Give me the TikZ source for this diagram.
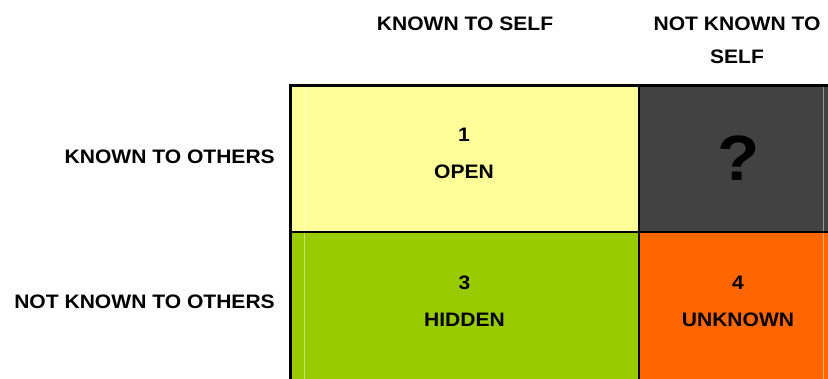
\documentclass[tikz,border=0pt]{standalone}
\usepackage{fontspec}
\setmainfont{Liberation Sans}[FakeStretch=1.08]
\usetikzlibrary{positioning}
\definecolor{openyellow}{HTML}{FFFF99}
\definecolor{blindgray}{HTML}{424242}
\definecolor{hiddengreen}{HTML}{99CC00}
\definecolor{unknownorange}{HTML}{FF6600}

\begin{document}
\begin{tikzpicture}[x=1pt,y=-1pt]
\tikzset{heading/.style = {inner sep=0pt, font=\bfseries\fontsize{19.5}{33}\selectfont}}
\tikzset{celltext/.style = {inner sep=0pt, align=center, font=\bfseries\fontsize{19.5}{37}\selectfont}}
\tikzset{gridline/.style = {white, opacity=0.45, line width=1pt}}
\clip (0,0) rectangle (828,379);
% cells
\fill[openyellow] (290,85) rectangle (639,232);
\fill[blindgray] (639,85) rectangle (840,232);
\fill[hiddengreen] (290,232) rectangle (639,390);
\fill[unknownorange] (639,232) rectangle (840,390);

% faint sheet lines
\draw[gridline] (304.5,87) -- (304.5,379);
\draw[gridline] (823.5,87) -- (823.5,379);

% borders
\draw[line width=3pt] (289,85.5) -- (840,85.5);
\draw[line width=3pt] (290.5,84) -- (290.5,390);
\draw[line width=2pt] (639,85) -- (639,390);
\draw[line width=2pt] (290,232) -- (840,232);

% headings
\node[heading] (self) at (465,23.5) {KNOWN TO SELF};
\node[heading, align=center] (notself) at (737,40.5) {NOT KNOWN TO\\SELF};
\node[heading, anchor=east] (others) at (275,157) {KNOWN TO OTHERS};
\node[heading, anchor=east] (notothers) at (275,302) {NOT KNOWN TO OTHERS};

% cell texts
\node[celltext] (open) at (464,153) {1\\OPEN};
\node[inner sep=0pt, font=\bfseries\fontsize{64}{64}\selectfont] (blind) at (739,158.5) {?};
\node[celltext] (hidden) at (464.5,301) {3\\HIDDEN};
\node[celltext] (unknown) at (738,301) {4\\UNKNOWN};
\end{tikzpicture}
\end{document}
